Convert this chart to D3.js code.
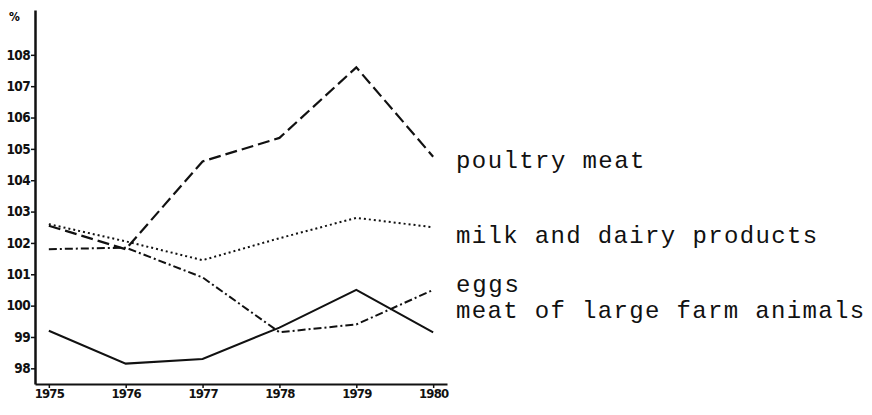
<!DOCTYPE html>
<html>
<head>
<meta charset="utf-8">
<script src="https://cdn.jsdelivr.net/npm/d3@7"></script>
<style>
  body { margin: 0; background: #fff; }
  .axis text { font-family: "DejaVu Sans Condensed", "Liberation Sans Narrow", sans-serif; font-weight: bold; fill: #111; }
</style>
</head>
<body>
<svg class="chart"></svg>
<script>
const years = [1975, 1976, 1977, 1978, 1979, 1980];
const yTicks = [98, 99, 100, 101, 102, 103, 104, 105, 106, 107, 108];

const poultry = [102.55, 101.8, 104.6, 105.35, 107.6, 104.75];
const milk = [102.6, 102.05, 101.45, 102.15, 102.8, 102.5];
const eggs = [101.8, 101.85, 100.9, 99.15, 99.4, 100.5];
const largeAnimals = [99.2, 98.15, 98.3, 99.3, 100.5, 99.15];

const labels = ["poultry meat", "milk and dairy products", "eggs", "meat of large farm animals"];
const labelValues = [104.4, 102.0, 100.45, 99.6];

function chart() {
    const width = 872, height = 415;

    const svg = d3.select(".chart")
        .attr("width", width)
        .attr("height", height);

    const x = d3.scaleLinear()
        .domain([1974.82, 1980.18])
        .range([35, 447]);

    const y = d3.scaleLinear()
        .domain([97.5, 109.43])
        .range([384, 10]);

    // x axis
    const xAxis = svg.append("g")
        .attr("class", "axis")
        .attr("transform", `translate(0,${y(97.5)})`)
        .call(d3.axisBottom(x).tickValues(years).tickFormat(d3.format("d")).tickSize(4).tickSizeOuter(0).tickPadding(2));
    xAxis.select(".domain").attr("stroke", "#111").attr("stroke-width", 2);
    xAxis.selectAll(".tick line").attr("stroke", "#111").attr("stroke-width", 1.5);
    xAxis.selectAll(".tick text").attr("font-size", 13).attr("letter-spacing", -0.8).attr("dy", "0.6em");

    // y axis
    const yAxis = svg.append("g")
        .attr("class", "axis")
        .attr("transform", `translate(${x(1974.82)},0)`)
        .call(d3.axisLeft(y).tickValues(yTicks).tickSize(4).tickSizeOuter(0).tickPadding(1));
    yAxis.select(".domain").attr("stroke", "#111").attr("stroke-width", 2.5);
    yAxis.selectAll(".tick line").attr("stroke", "#111").attr("stroke-width", 1.5);
    yAxis.selectAll(".tick text").attr("font-size", 13.5).attr("letter-spacing", -0.6);

    svg.append("text")
        .attr("x", 9)
        .attr("y", y(109.2) + 4)
        .attr("font-family", "DejaVu Sans Condensed, sans-serif")
        .attr("font-weight", "bold")
        .attr("font-size", 12)
        .text("%");

    const line = d3.line()
        .x((d, i) => x(years[i]))
        .y(d => y(d));

    const series = [
        {values: poultry, dash: "12,5", width: 2.2},
        {values: milk, dash: "2,3", width: 2},
        {values: eggs, dash: "8,3,2,3", width: 2},
        {values: largeAnimals, dash: null, width: 2}
    ];

    svg.selectAll(".series")
        .data(series)
        .join("path")
        .attr("class", "series")
        .attr("fill", "none")
        .attr("stroke", "#111")
        .attr("stroke-width", d => d.width)
        .attr("stroke-dasharray", d => d.dash)
        .attr("d", d => line(d.values));

    // typewriter labels, fixed pitch
    svg.selectAll(".label")
        .data(labels)
        .join("text")
        .attr("class", "label")
        .attr("x", 456)
        .attr("y", (d, i) => y(labelValues[i]))
        .attr("font-family", "Liberation Mono, Courier New, monospace")
        .attr("font-size", 24)
        .attr("textLength", d => d.length * 15.7)
        .attr("lengthAdjust", "spacing")
        .attr("fill", "#111")
        .text(d => d);
}

chart();
</script>
</body>
</html>
